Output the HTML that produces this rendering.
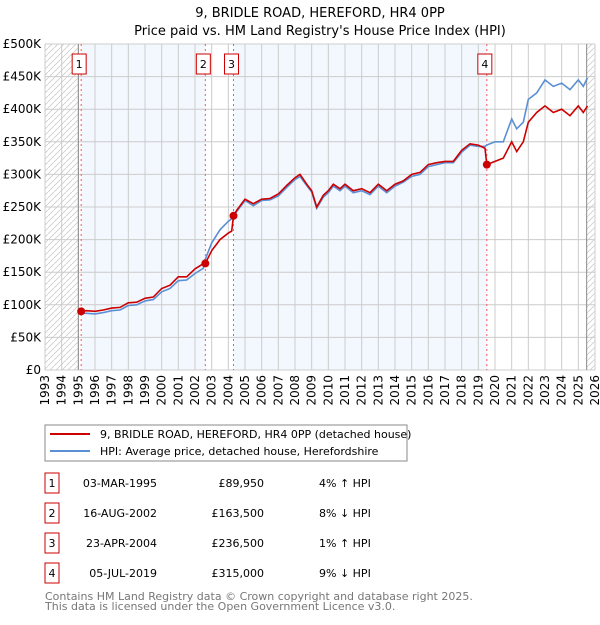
<!DOCTYPE html>
<html><head><meta charset="utf-8"><style>
body{margin:0;background:#fff;font-family:"Liberation Sans","DejaVu Sans",sans-serif;}
svg text{font-family:"DejaVu Sans","Liberation Sans",sans-serif;}
</style></head><body>
<svg id="c" width="600" height="620" xmlns="http://www.w3.org/2000/svg">
<defs><pattern id="h" width="6" height="6" patternUnits="userSpaceOnUse"><path d="M0,6 L6,0" stroke="#ccc" stroke-width="0.8"/></pattern></defs>
<text x="320" y="17" text-anchor="middle" font-size="13">9, BRIDLE ROAD, HEREFORD, HR4 0PP</text>
<text x="320" y="35" text-anchor="middle" font-size="13">Price paid vs. HM Land Registry's House Price Index (HPI)</text>
<g id="plot"></g>
<rect x="45" y="425" width="362" height="36" fill="#fff" stroke="#888"/>
<line x1="50" y1="434" x2="90" y2="434" stroke="#cc0000" stroke-width="2"/>
<text x="100" y="438" font-size="11">9, BRIDLE ROAD, HEREFORD, HR4 0PP (detached house)</text>
<line x1="50" y1="451" x2="90" y2="451" stroke="#5b8fd4" stroke-width="2"/>
<text x="100" y="455" font-size="11">HPI: Average price, detached house, Herefordshire</text>
<g id="tbl" font-size="11"></g>
<text x="45" y="600" font-size="11" fill="#777">Contains HM Land Registry data © Crown copyright and database right 2025.</text>
<text x="45" y="610" font-size="11" fill="#777">This data is licensed under the Open Government Licence v3.0.</text>
</svg>
<script>
const hpiYears=[1995.17,1995.5,1996,1996.5,1997,1997.5,1998,1998.5,1999,1999.5,2000,2000.5,2001,2001.5,2002,2002.5,2002.62,2003,2003.5,2004,2004.31,2004.5,2005,2005.5,2006,2006.5,2007,2007.5,2008,2008.3,2008.7,2009,2009.3,2009.7,2010,2010.3,2010.7,2011,2011.5,2012,2012.5,2013,2013.5,2014,2014.5,2015,2015.5,2016,2016.5,2017,2017.5,2018,2018.5,2019,2019.4,2019.5,2020,2020.5,2021,2021.3,2021.7,2022,2022.5,2023,2023.5,2024,2024.5,2025,2025.3,2025.55];
const hpiValues=[87,87,86,88,91,92,99,100,106,108,120,125,137,138,148,156,170,195,215,228,234,243,260,252,260,261,267,280,292,297,283,273,248,265,272,282,275,282,272,275,269,282,272,282,288,297,300,312,315,318,318,334,345,343,343,345,350,350,385,370,380,415,425,445,435,440,430,445,435,448];
const priceYears=[1995.17,1995.5,1996,1996.5,1997,1997.5,1998,1998.5,1999,1999.5,2000,2000.5,2001,2001.5,2002,2002.5,2002.62,2003,2003.5,2004,2004.2,2004.31,2004.5,2005,2005.5,2006,2006.5,2007,2007.5,2008,2008.3,2008.7,2009,2009.3,2009.7,2010,2010.3,2010.7,2011,2011.5,2012,2012.5,2013,2013.5,2014,2014.5,2015,2015.5,2016,2016.5,2017,2017.5,2018,2018.5,2019,2019.4,2019.51,2020,2020.5,2021,2021.3,2021.7,2022,2022.5,2023,2023.5,2024,2024.5,2025,2025.3,2025.55];
const priceValues=[90,91,90,92,95,96,103,104,110,112,125,130,143,143,155,163,163.5,183,200,210,213,236.5,245,262,255,262,263,270,283,295,300,285,275,250,268,275,285,278,285,275,278,272,285,275,285,290,300,303,315,318,320,320,337,347,345,340,315,320,325,350,335,350,380,395,405,395,400,390,405,395,405];
const saleYears=[1995.17,2002.62,2004.31,2019.51];
const saleValues=[89.95,163.5,236.5,315];
const saleLabels=["1","2","3","4"];
const saleDates=["03-MAR-1995","16-AUG-2002","23-APR-2004","05-JUL-2019"];
const salePrices=["£89,950","£163,500","£236,500","£315,000"];
const saleHpi=["4% ↑ HPI","8% ↓ HPI","1% ↑ HPI","9% ↓ HPI"];
const yTicks=[0,50,100,150,200,250,300,350,400,450,500];
const yTickLabels=["£0","£50K","£100K","£150K","£200K","£250K","£300K","£350K","£400K","£450K","£500K"];
const xTicks=[1993,1994,1995,1996,1997,1998,1999,2000,2001,2002,2003,2004,2005,2006,2007,2008,2009,2010,2011,2012,2013,2014,2015,2016,2017,2018,2019,2020,2021,2022,2023,2024,2025,2026];

const NS="http://www.w3.org/2000/svg";
const L=45,R=595,T=44,B=370;
const X=y=>L+(y-1993)/(2026-1993)*(R-L);
const Y=v=>B-v/500*(B-T);
const g=document.getElementById('plot');
function mk(t,a,p){const e=document.createElementNS(NS,t);for(const k in a)e.setAttribute(k,a[k]);(p||g).appendChild(e);return e;}
let e;
e=mk('rect',{x:L,y:T,width:R-L,height:B-T,fill:'#fff'});


e=mk('rect',{x:X(1995.17),y:T,width:X(2002.62)-X(1995.17),height:B-T,fill:'#eef3fd',opacity:0.7});


e=mk('rect',{x:X(2004.31),y:T,width:X(2019.51)-X(2004.31),height:B-T,fill:'#eef3fd',opacity:0.7});


e=mk('rect',{x:L,y:T,width:X(1995)-L,height:B-T,fill:'url(#h)'});


e=mk('rect',{x:X(2025.5),y:T,width:R-X(2025.5),height:B-T,fill:'url(#h)'});


xTicks.forEach(t=>{
 e=mk('line',{x1:X(t),x2:X(t),y1:T,y2:B,stroke:'#ccc','stroke-width':1});
 
 
 e=mk('text',{transform:`translate(${X(t)+4},${B+5}) rotate(-90)`,'text-anchor':'end','font-size':12});
 e.textContent=t;
 
 
});
yTicks.forEach((t,i)=>{
 e=mk('line',{x1:L,x2:R,y1:Y(t),y2:Y(t),stroke:'#ccc','stroke-width':1});
 
 
 e=mk('text',{x:L-4,y:Y(t)+4,'text-anchor':'end','font-size':12});
 e.textContent=yTickLabels[i];
 
 
});
e=mk('line',{x1:X(1995),x2:X(1995),y1:T,y2:B,stroke:'#888'});


e=mk('line',{x1:X(2025.5),x2:X(2025.5),y1:T,y2:B,stroke:'#888'});


saleYears.forEach((s,i)=>{
 e=mk('line',{x1:X(s),x2:X(s),y1:T,y2:B,stroke:'#f55','stroke-dasharray':'2,3'});
 
 
 e=mk('rect',{x:X(s)-9,y:54,width:14,height:20,fill:'#fff',stroke:'#cc0000'});
 
 
 e=mk('text',{x:X(s)-2,y:68,'text-anchor':'middle','font-size':11});
 e.textContent=saleLabels[i];
 
 
});
const pts=(xs,vs)=>xs.map((x,i)=>X(x).toFixed(1)+','+Y(vs[i]).toFixed(1)).join(' ');
e=mk('polyline',{points:pts(hpiYears,hpiValues),fill:'none',stroke:'#5b8fd4','stroke-width':1.6});


e=mk('polyline',{points:pts(priceYears,priceValues),fill:'none',stroke:'#cc0000','stroke-width':1.6});


saleYears.forEach((s,i)=>{
 e=mk('circle',{cx:X(s),cy:Y(saleValues[i]),r:4,fill:'#cc0000'});
 
 
});
const tb=document.getElementById('tbl');
saleLabels.forEach((l,i)=>{
 const y=483+i*30;
 e=mk('rect',{x:45,y:y-10,width:14,height:20,fill:'#fff',stroke:'#cc0000'},tb);
 
 
 e=mk('text',{x:52,y:y+4,'text-anchor':'middle'},tb);e.textContent=l;
 
 
 e=mk('text',{x:157,y:y+4,'text-anchor':'end'},tb);e.textContent=saleDates[i];
 
 
 e=mk('text',{x:264,y:y+4,'text-anchor':'end'},tb);e.textContent=salePrices[i];
 
 
 e=mk('text',{x:319,y:y+4},tb);e.textContent=saleHpi[i];
 
 
});
</script>
</body></html>
